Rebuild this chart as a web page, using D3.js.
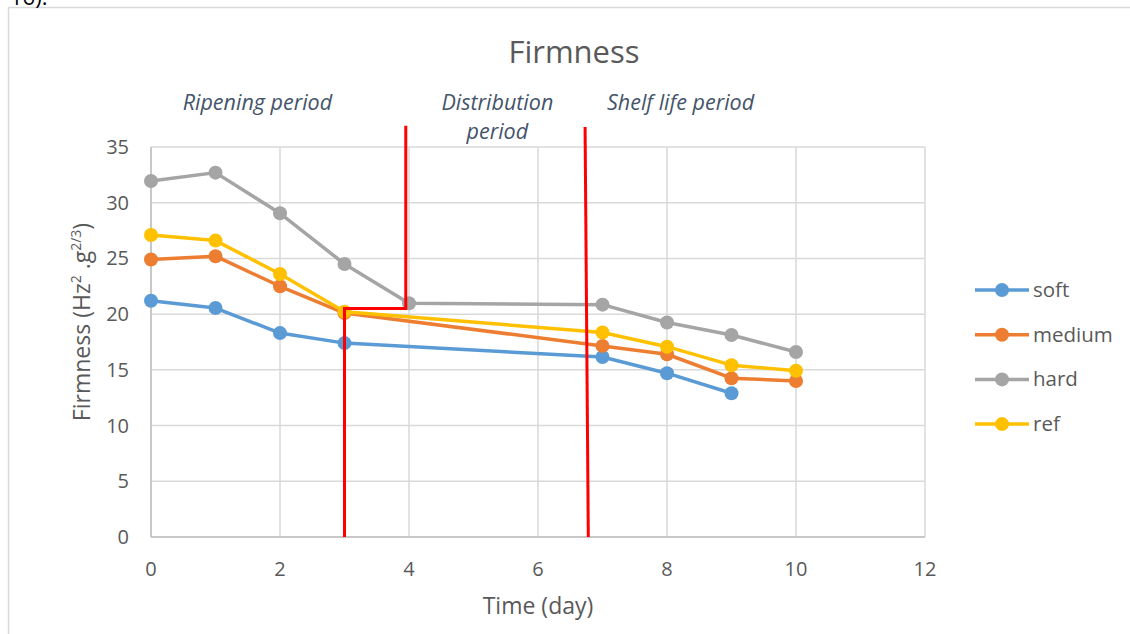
<!DOCTYPE html>
<html>
<head>
<meta charset="utf-8">
<script src="https://cdn.jsdelivr.net/npm/d3@7"></script>
<style>
  body { margin: 0; background: #fff; overflow: hidden; }
  text { font-family: "Open Sans", "Noto Sans", sans-serif; }
</style>
</head>
<body>
<script>
// Data
const days = [0, 1, 2, 3, 4, 7, 8, 9, 10];
const soft   = [21.2, 20.55, 18.3, 17.4, null, 16.15, 14.7, 12.9, null];
const medium = [24.9, 25.2, 22.5, 20.1, null, 17.15, 16.4, 14.25, 14.0];
const hard   = [31.95, 32.7, 29.05, 24.5, 20.98, 20.85, 19.25, 18.13, 16.6];
const ref    = [27.1, 26.6, 23.6, 20.22, null, 18.35, 17.08, 15.42, 14.92];
const seriesNames = ["soft", "medium", "hard", "ref"];
const seriesColors = ["#5b9bd5", "#ed7d31", "#a5a5a5", "#ffc000"];
const xTicks = [0, 2, 4, 6, 8, 10, 12];
const yTicks = [0, 5, 10, 15, 20, 25, 30, 35];

// red period dividers, in data units
const dividerA = [[3, 0], [3, 20.5], [3.95, 20.5], [3.95, 36.9]];
const dividerB = [[6.73, 36.8], [6.78, 0]];
const periodLabels = [
  { lines: ["Ripening period"], x: 1.65 },
  { lines: ["Distribution", "period"], x: 5.37 },
  { lines: ["Shelf life period"], x: 8.21 }
];

const width = 1130, height = 634;
const svg = d3.select("body").append("svg")
  .attr("width", width)
  .attr("height", height);

// outer chart frame (right and bottom run off the page)
svg.append("rect")
  .attr("x", 8.5).attr("y", 7.5)
  .attr("width", 1200).attr("height", 700)
  .attr("fill", "none")
  .attr("stroke", "#d9d9d9")
  .attr("stroke-width", 1.5);

svg.append("text")
  .attr("x", 10).attr("y", 5)
  .attr("font-size", 22)
  .attr("fill", "#000")
  .text("16).");

const x = d3.scaleLinear().domain([0, 12]).range([151, 925]);
const y = d3.scaleLinear().domain([0, 35]).range([537, 147]);

// gridlines
svg.append("g")
  .selectAll("line.h")
  .data(yTicks)
  .enter().append("line")
  .attr("x1", x(0)).attr("x2", x(12))
  .attr("y1", d => y(d)).attr("y2", d => y(d))
  .attr("stroke", "#d9d9d9")
  .attr("stroke-width", 1.5);

svg.append("g")
  .selectAll("line.v")
  .data(xTicks)
  .enter().append("line")
  .attr("x1", d => x(d)).attr("x2", d => x(d))
  .attr("y1", y(0)).attr("y2", y(35))
  .attr("stroke", "#d9d9d9")
  .attr("stroke-width", 1.5);

// axis lines
svg.append("line")
  .attr("x1", x(0)).attr("x2", x(12))
  .attr("y1", y(0)).attr("y2", y(0))
  .attr("stroke", "#bfbfbf").attr("stroke-width", 1.5);
svg.append("line")
  .attr("x1", x(0)).attr("x2", x(0))
  .attr("y1", y(0)).attr("y2", y(35))
  .attr("stroke", "#bfbfbf").attr("stroke-width", 1.5);

// tick labels
svg.append("g")
  .selectAll("text")
  .data(yTicks)
  .enter().append("text")
  .attr("x", 129)
  .attr("y", d => y(d) + 7)
  .attr("text-anchor", "end")
  .attr("font-size", 20)
  .attr("fill", "#595959")
  .text(d => d);

svg.append("g")
  .selectAll("text")
  .data(xTicks)
  .enter().append("text")
  .attr("x", d => x(d))
  .attr("y", 576)
  .attr("text-anchor", "middle")
  .attr("font-size", 20)
  .attr("fill", "#595959")
  .text(d => d);

// axis titles
svg.append("text")
  .attr("x", 538).attr("y", 614)
  .attr("text-anchor", "middle")
  .attr("font-size", 23)
  .attr("fill", "#595959")
  .text("Time (day)");

const yTitle = svg.append("text")
  .attr("transform", "translate(90,322) rotate(-90)")
  .attr("text-anchor", "middle")
  .attr("font-size", 23)
  .attr("fill", "#595959");
yTitle.append("tspan").text("Firmness (Hz");
yTitle.append("tspan").attr("font-size", 14).attr("dy", -9).text("2");
yTitle.append("tspan").attr("dy", 9).text(" .g");
yTitle.append("tspan").attr("font-size", 14).attr("dy", -9).text("2/3");
yTitle.append("tspan").attr("dy", 9).text(")");

// title
svg.append("text")
  .attr("x", 574).attr("y", 63)
  .attr("text-anchor", "middle")
  .attr("font-size", 31)
  .attr("fill", "#595959")
  .text("Firmness");

// period labels
periodLabels.forEach(p => {
  p.lines.forEach((ln, i) => {
    svg.append("text")
      .attr("x", x(p.x))
      .attr("y", 110 + i * 29)
      .attr("text-anchor", "middle")
      .attr("font-size", 21.5)
      .attr("font-style", "italic")
      .attr("fill", "#44546a")
      .text(ln);
  });
});

// series
const allSeries = [soft, medium, hard, ref];
const line = d3.line()
  .x(d => x(d.day))
  .y(d => y(d.v));

allSeries.forEach((vals, i) => {
  const pts = days.map((d, j) => ({ day: d, v: vals[j] })).filter(p => p.v !== null);
  svg.append("path")
    .datum(pts)
    .attr("d", line)
    .attr("fill", "none")
    .attr("stroke", seriesColors[i])
    .attr("stroke-width", 3.5)
    .attr("stroke-linejoin", "round");
  svg.append("g")
    .selectAll("circle")
    .data(pts)
    .enter().append("circle")
    .attr("cx", d => x(d.day))
    .attr("cy", d => y(d.v))
    .attr("r", 7)
    .attr("fill", seriesColors[i]);
});

// red period dividers
const redLine = d3.line().x(d => x(d[0])).y(d => y(d[1]));
[dividerA, dividerB].forEach(pts => {
  svg.append("path")
    .attr("d", redLine(pts))
    .attr("fill", "none")
    .attr("stroke", "#ff0000")
    .attr("stroke-width", 3);
});

// legend
const legend = svg.append("g");
seriesNames.forEach((name, i) => {
  const ly = 290 + i * 44.7;
  legend.append("line")
    .attr("x1", 975).attr("x2", 1029)
    .attr("y1", ly).attr("y2", ly)
    .attr("stroke", seriesColors[i])
    .attr("stroke-width", 3.5);
  legend.append("circle")
    .attr("cx", 1002).attr("cy", ly)
    .attr("r", 7)
    .attr("fill", seriesColors[i]);
  legend.append("text")
    .attr("x", 1033).attr("y", ly + 7)
    .attr("font-size", 20.5)
    .attr("fill", "#595959")
    .text(name);
});
</script>
</body>
</html>
